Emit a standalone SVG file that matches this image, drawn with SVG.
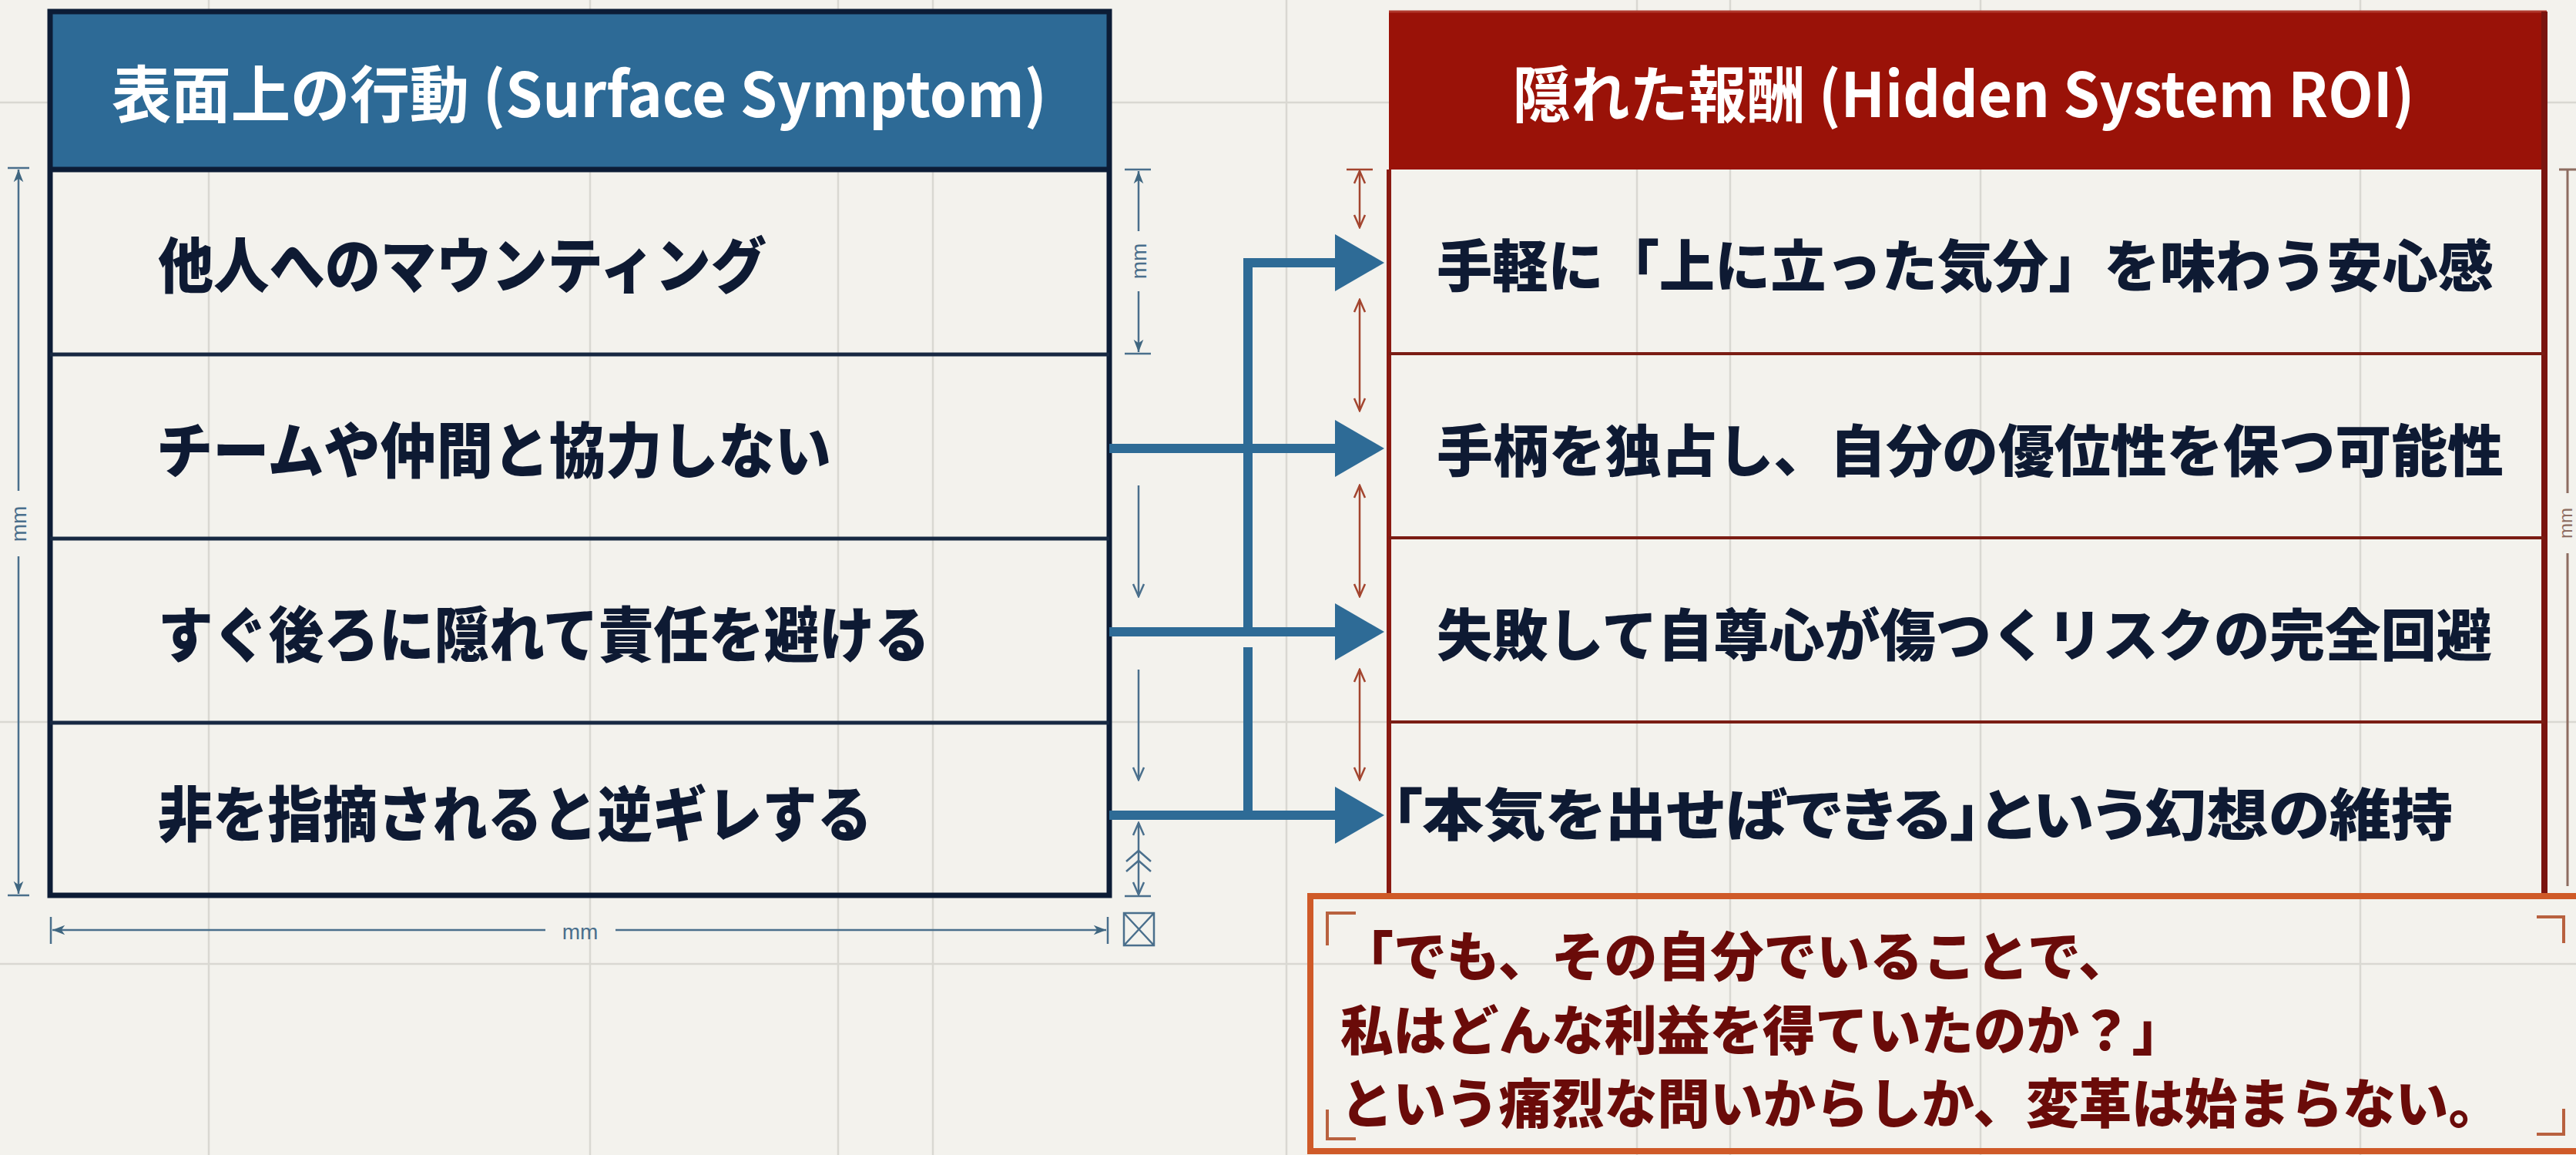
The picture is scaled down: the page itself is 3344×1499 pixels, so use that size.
<svg xmlns="http://www.w3.org/2000/svg" width="3344" height="1499" viewBox="0 0 3344 1499">
<style>
.grid{stroke:#d9d8d2;stroke-width:2.5;fill:none}
.title{font-family:"Noto Sans CJK JP","Noto Sans",sans-serif;font-weight:700;font-size:80px;fill:#ffffff;text-anchor:middle;dominant-baseline:central}
.row{font-family:"Noto Sans CJK JP","Noto Sans",sans-serif;font-weight:900;font-size:78px;fill:#0e1a33;dominant-baseline:central}
.rowr{font-size:73px}
.quote{font-family:"Noto Sans CJK JP","Noto Sans",sans-serif;font-weight:900;font-size:69px;fill:#6a0b09;dominant-baseline:central}
.mm{font-family:"Liberation Sans","DejaVu Sans",sans-serif;font-size:28px;text-anchor:middle;dominant-baseline:central}
.dimb{stroke:#4a6f8c;stroke-width:2.5;fill:none}
.dimr{stroke:#a3452f;stroke-width:2.5;fill:none}
.conn{stroke:#2e6b96;stroke-width:12;fill:none}
.head{fill:#2e6b96}
</style>
<defs>
<marker id="vb" viewBox="0 0 20 20" refX="18" refY="10" markerWidth="20" markerHeight="20" markerUnits="userSpaceOnUse" orient="auto-start-reverse"><path d="M2,3 L18,10 L2,17" fill="none" stroke="#4a6f8c" stroke-width="2.5"/></marker>
<marker id="vr" viewBox="0 0 20 20" refX="18" refY="10" markerWidth="20" markerHeight="20" markerUnits="userSpaceOnUse" orient="auto-start-reverse"><path d="M2,3 L18,10 L2,17" fill="none" stroke="#a3452f" stroke-width="2.5"/></marker>
<marker id="fb" viewBox="0 0 20 20" refX="19" refY="10" markerWidth="18" markerHeight="18" markerUnits="userSpaceOnUse" orient="auto-start-reverse"><path d="M1,3 L19,10 L1,17 L6,10 Z" fill="#3f6680"/></marker>
</defs>
<rect width="3344" height="1499" fill="#f3f2ed"/>
<g id="grid">
<path class="grid" d="M271,0V1499M766,0V1499M1088,0V1499M1211,0V1499M1670,0V1499M2125,0V1499M2246,0V1499M2571,0V1499M3064,0V1499"/>
<path class="grid" d="M0,133H3344M0,937H3344M0,1251H3344"/>
</g>
<g id="left-box">
<rect x="65" y="15" width="1375" height="205" fill="#2d6a96"/>
<rect x="65" y="15" width="1375" height="1147" fill="none" stroke="#0c1c36" stroke-width="7"/>
<path d="M65,220H1440" stroke="#0c1c36" stroke-width="7"/>
<path d="M65,460H1440M65,699H1440M65,938H1440" stroke="#172842" stroke-width="5"/>
<text class="title" x="752" y="117" textLength="1214" lengthAdjust="spacingAndGlyphs">表面上の行動 (Surface Symptom)</text>
</g>
<g id="row-l1"><text class="row" x="205" y="340" textLength="790" lengthAdjust="spacingAndGlyphs">他人へのマウンティング</text></g>
<g id="row-l2"><text class="row" x="203" y="580" textLength="876" lengthAdjust="spacingAndGlyphs">チームや仲間と協力しない</text></g>
<g id="row-l3"><text class="row" x="205" y="819" textLength="1002" lengthAdjust="spacingAndGlyphs">すぐ後ろに隠れて責任を避ける</text></g>
<g id="row-l4"><text class="row" x="205" y="1052" textLength="927" lengthAdjust="spacingAndGlyphs">非を指摘されると逆ギレする</text></g>
<g id="right-box">
<rect x="1803" y="15" width="1503" height="205" fill="#9a1208"/>
<path d="M1803,15H3306" stroke="#b0382c" stroke-width="3"/>
<path d="M1803,220V1163" stroke="#8a1a12" stroke-width="6"/>
<path d="M3303,15V1160" stroke="#7a1510" stroke-width="8"/>
<path d="M1803,459H3303M1803,698H3303M1803,937H3303" stroke="#7a1d14" stroke-width="4"/>
<text class="title" x="2549" y="117" textLength="1171" lengthAdjust="spacingAndGlyphs">隠れた報酬 (Hidden System ROI)</text>
</g>
<g id="row-r1"><text class="row rowr" x="1865" y="340" textLength="1372" lengthAdjust="spacingAndGlyphs">手軽に「上に立った気分」を味わう安心感</text></g>
<g id="row-r2"><text class="row rowr" x="1865" y="580" textLength="1385" lengthAdjust="spacingAndGlyphs">手柄を独占し、自分の優位性を保つ可能性</text></g>
<g id="row-r3"><text class="row rowr" x="1865" y="819" textLength="1370" lengthAdjust="spacingAndGlyphs">失敗して自尊心が傷つくリスクの完全回避</text></g>
<g id="row-r4"><text class="row rowr" x="1806" y="1052" textLength="1378" lengthAdjust="spacingAndGlyphs" style="font-feature-settings:'palt'">「本気を出せばできる」という幻想の維持</text></g>
<g id="connectors">
<path class="conn" d="M1620,826V341H1740"/>
<path class="conn" d="M1620,840V1064"/>
<path class="conn" d="M1440,582H1740M1440,820H1740M1440,1058H1740"/>
<path class="head" d="M1733,304L1797,341L1733,378Z"/>
<path class="head" d="M1733,545L1797,582L1733,619Z"/>
<path class="head" d="M1733,783L1797,820L1733,857Z"/>
<path class="head" d="M1733,1021L1797,1058L1733,1095Z"/>
</g>
<g id="dimensions">
<path class="dimb" d="M10,218H38M10,1162H38"/>
<path class="dimb" d="M24,637V220" marker-end="url(#fb)"/>
<path class="dimb" d="M24,722V1160" marker-end="url(#fb)"/>
<text class="mm" x="24" y="680" fill="#4a6f8c" transform="rotate(-90 24 680)">mm</text>
<path class="dimb" d="M66,1190V1225M1438,1190V1225"/>
<path class="dimb" d="M708,1207H68" marker-end="url(#fb)"/>
<path class="dimb" d="M799,1207H1436" marker-end="url(#fb)"/>
<text class="mm" x="753" y="1209" fill="#4a6f8c">mm</text>
<path class="dimb" d="M1460,220H1494M1460,459H1494"/>
<path class="dimb" d="M1478,300V222" marker-end="url(#fb)"/>
<path class="dimb" d="M1478,378V457" marker-end="url(#fb)"/>
<text class="mm" x="1478" y="339" fill="#4a6f8c" transform="rotate(-90 1478 339)">mm</text>
<path class="dimb" d="M1478,630V774" marker-end="url(#vb)"/>
<path class="dimb" d="M1478,869V1012" marker-end="url(#vb)"/>
<path class="dimb" d="M1478,1068V1161" marker-start="url(#vb)" marker-end="url(#vb)"/>
<path class="dimb" d="M1460,1163H1494M1462,1118L1478,1104L1494,1118M1462,1131L1478,1117L1494,1131"/>
<path class="dimb" d="M1459,1185H1498V1227H1459ZM1459,1185L1498,1227M1498,1185L1459,1227"/>
<path class="dimr" d="M1748,220H1782"/>
<path class="dimr" d="M1765,222V295" marker-start="url(#vr)" marker-end="url(#vr)"/>
<path class="dimr" d="M1765,389V533" marker-start="url(#vr)" marker-end="url(#vr)"/>
<path class="dimr" d="M1765,630V774" marker-start="url(#vr)" marker-end="url(#vr)"/>
<path class="dimr" d="M1765,869V1012" marker-start="url(#vr)" marker-end="url(#vr)"/>
<path d="M3322,220H3344M3333,220V640M3333,718V1150" stroke="#8d6c60" stroke-width="3" fill="none"/>
<text class="mm" x="3330" y="679" fill="#8d6c60" style="font-size:24px" transform="rotate(-90 3330 679)">mm</text>
</g>
<g id="quote-box">
<rect x="1701" y="1163" width="1660" height="331" fill="none" stroke="#cf5a28" stroke-width="8"/>
<path d="M1760,1185H1723V1227M1723,1440V1478H1760M3293,1190H3328V1224M3328,1439V1472H3293" fill="none" stroke="#b8613f" stroke-width="4"/>
<text class="quote" x="1740" y="1237" textLength="1027" lengthAdjust="spacingAndGlyphs">「でも、その自分でいることで、</text>
<text class="quote" x="1740" y="1333" textLength="1096" lengthAdjust="spacingAndGlyphs">私はどんな利益を得ていたのか？」</text>
<text class="quote" x="1740" y="1428" textLength="1507" lengthAdjust="spacingAndGlyphs">という痛烈な問いからしか、変革は始まらない。</text>
</g>
</svg>
